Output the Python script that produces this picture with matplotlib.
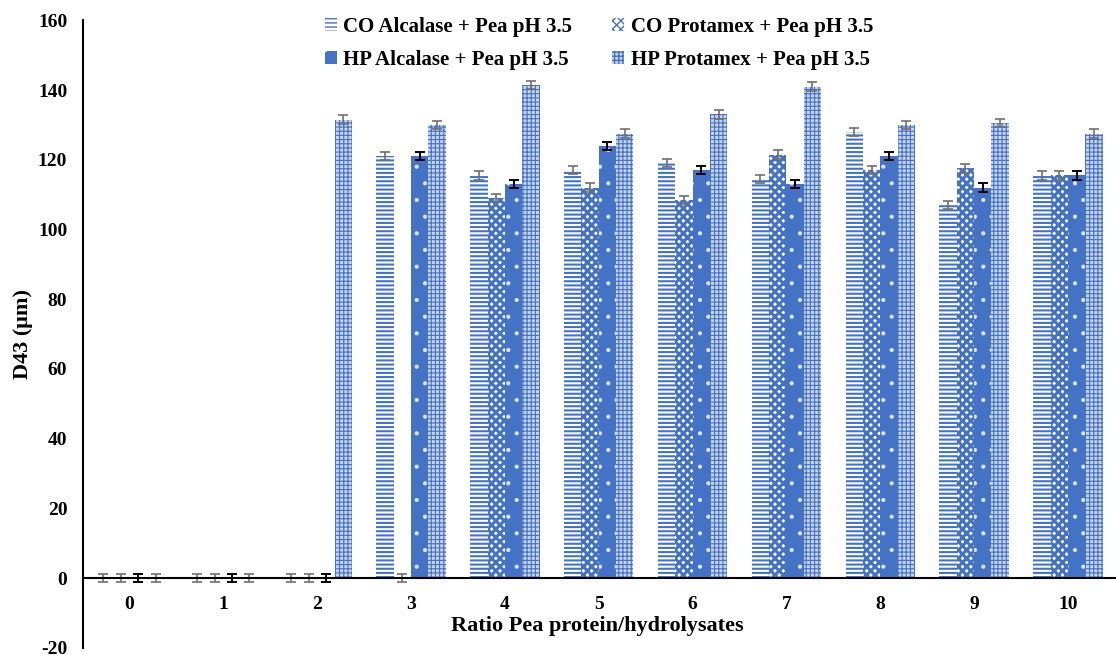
import matplotlib.pyplot as plt
import numpy as np

plt.rcParams['font.family'] = ['Liberation Serif', 'DejaVu Serif']
plt.rcParams['font.weight'] = 'bold'
plt.rcParams['axes.unicode_minus'] = False

# Data
ratios = ['0', '1', '2', '3', '4', '5', '6', '7', '8', '9', '10']
co_alcalase = [0, 0, 0, 121, 115.5, 117, 119, 114.5, 128, 107, 115.5]
co_protamex = [0, 0, 0, 0, 109, 112, 108.5, 121.5, 117, 117.5, 115.5]
hp_alcalase = [0, 0, 0, 121, 113, 124, 117, 113, 121, 112, 115.5]
hp_protamex = [0, 0, 131.5, 130, 141.5, 127.5, 133, 141, 130, 130.5, 127.5]
err = [1.2] * 11

blue = '#4472C4'
x = np.arange(len(ratios))
w = 0.185

fig, ax = plt.subplots(figsize=(11.16, 6.55), dpi=100)
fig.subplots_adjust(left=0.074, right=0.999, top=0.969, bottom=0.011)

with plt.rc_context({'hatch.linewidth': 1.5}):
    b1 = ax.bar(x - 1.5 * w, co_alcalase, w, color='white', edgecolor=blue,
                hatch='----', linewidth=0, label='CO Alcalase + Pea pH 3.5')
with plt.rc_context({'hatch.linewidth': 2.2}):
    b2 = ax.bar(x - 0.5 * w, co_protamex, w, color='white', edgecolor=blue,
                hatch='xxxx', linewidth=0, label='CO Protamex + Pea pH 3.5')
with plt.rc_context({'hatch.linewidth': 0.6}):
    b3 = ax.bar(x + 0.5 * w, hp_alcalase, w, color=blue, edgecolor='#DDE5F4',
                hatch='.', linewidth=0, label='HP Alcalase + Pea pH 3.5')
with plt.rc_context({'hatch.linewidth': 0.8}):
    b4 = ax.bar(x + 1.5 * w, hp_protamex, w, color='#C5D3EC', edgecolor=blue,
                hatch='++++', linewidth=0, label='HP Protamex + Pea pH 3.5')

# Error bars
ax.errorbar(x - 1.5 * w, co_alcalase, yerr=err, fmt='none', ecolor='#707070',
            capsize=3.5, elinewidth=1.2, capthick=1.2)
ax.errorbar(x - 0.5 * w, co_protamex, yerr=err, fmt='none', ecolor='#707070',
            capsize=3.5, elinewidth=1.2, capthick=1.2)
ax.errorbar(x + 0.5 * w, hp_alcalase, yerr=err, fmt='none', ecolor='black',
            capsize=3.5, elinewidth=1.4, capthick=1.4)
ax.errorbar(x + 1.5 * w, hp_protamex, yerr=err, fmt='none', ecolor='#707070',
            capsize=3.5, elinewidth=1.2, capthick=1.2)

ax.set_xlim(-0.5, 10.5)
ax.set_ylim(-20, 160)
ax.set_yticks(range(-20, 161, 20))
ax.set_xticks(x)
ax.set_xticklabels(ratios)
ax.tick_params(axis='both', length=0, labelsize=14)
ax.tick_params(axis='y', pad=11)
ax.tick_params(axis='x', pad=13)

ax.spines['top'].set_visible(False)
ax.spines['right'].set_visible(False)
ax.spines['bottom'].set_position(('data', 0))
ax.spines['bottom'].set_linewidth(1.5)
ax.spines['left'].set_linewidth(1.5)

ax.set_xlabel('Ratio Pea protein/hydrolysates', fontsize=16, fontweight='bold')
ax.xaxis.set_label_coords(0.499, 0.05)
ax.set_ylabel('D43 (μm)', fontsize=16, fontweight='bold')
ax.yaxis.set_label_coords(-0.048, 0.5)

ax.legend(handles=[b1, b3, b2, b4], ncol=2, frameon=False, fontsize=15,
          loc='upper center', bbox_to_anchor=(0.5, 1.035), columnspacing=1.9,
          handlelength=0.6, handleheight=0.6, handletextpad=0.3, labelspacing=0.6)

fig.savefig('out.png', dpi=100)
